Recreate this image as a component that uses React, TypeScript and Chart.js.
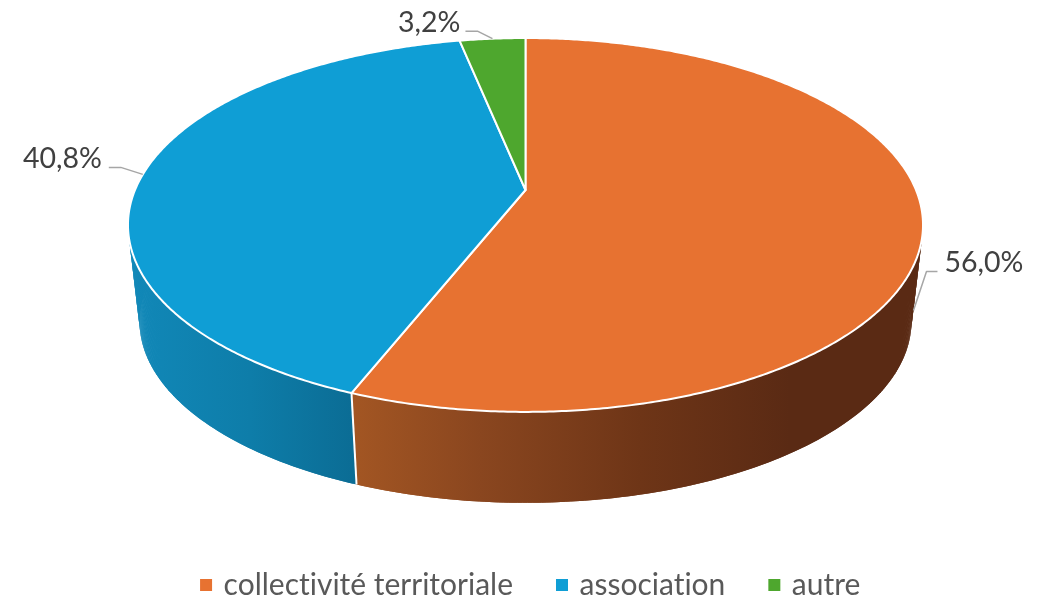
import React, { useEffect, useRef } from "react";
import { Chart, registerables } from "chart.js";

Chart.register(...registerables);

const categories = ["collectivité territoriale", "association", "autre"];
const shares = [56.0, 40.8, 3.2];
const shareLabels = ["56,0%", "40,8%", "3,2%"];
const faceColors = ["#E77231", "#0F9ED5", "#4EA72E"];
const FONT = "Lato, Carlito, 'Open Sans', sans-serif";

// Perspective projection of the pie's unit disc on to the page
const CX = 525.5;
const TOP_Y = 190;
const AX = 390.5;
const BY = 180.4;
const P = 0.187;
const DEPTH_SCALE = 0.971;
const BOTTOM_Y = 287.4;

type Pt = [number, number];
const project = (theta: number, scale: number, y0: number): Pt => {
  const u = Math.sin(theta);
  const v = -Math.cos(theta);
  const w = 1 - P * v;
  return [CX + (scale * AX * u) / w, y0 + (scale * BY * v) / w];
};
const top = (t: number) => project(t, 1, TOP_Y);
const bottom = (t: number) => project(t, DEPTH_SCALE, BOTTOM_Y);
const DEG = Math.PI / 180;

const wallStops: ([number, string][] | null)[] = [
  [[352, "#A35623"], [480, "#8A461F"], [640, "#6E3517"], [790, "#5A2A14"]],
  [[130, "#1188B8"], [250, "#0E7DA9"], [357, "#0B6C94"]],
  null,
];

const noLigatures = {
  id: "noLigatures",
  beforeDraw(chart: any) {
    chart.ctx.textRendering = "optimizeSpeed";
  },
};

const pie3d = {
  id: "pie3d",
  beforeDatasetDraw(chart: any, args: any) {
    const ctx: CanvasRenderingContext2D = chart.ctx;
    const arcs = args.meta.data;
    const range = (a: any): [number, number] => [
      a.startAngle + Math.PI / 2,
      a.endAngle + Math.PI / 2,
    ];
    ctx.save();
    // side wall
    arcs.forEach((a: any, i: number) => {
      const stops = wallStops[i];
      if (!stops) return;
      const [s, e] = range(a);
      const lo = Math.max(s, 60 * DEG);
      const hi = Math.min(e, 300 * DEG);
      if (hi <= lo) return;
      const g = ctx.createLinearGradient(stops[0][0], 0, stops[stops.length - 1][0], 0);
      const x0 = stops[0][0];
      const x1 = stops[stops.length - 1][0];
      stops.forEach(([x, c]) => g.addColorStop((x - x0) / (x1 - x0), c));
      ctx.fillStyle = g;
      const n = 240;
      for (let k = 0; k < n; k++) {
        const t0 = lo + ((hi - lo) * k) / n;
        const t1 = lo + ((hi - lo) * Math.min(k + 2, n)) / n;
        ctx.beginPath();
        ctx.moveTo(...top(t0));
        ctx.lineTo(...top(t1));
        ctx.lineTo(...bottom(t1));
        ctx.lineTo(...bottom(t0));
        ctx.closePath();
        ctx.fill();
      }
    });
    // white seam between the two walls
    const seam = range(arcs[0])[1];
    ctx.strokeStyle = "#FFFFFF";
    ctx.lineWidth = 2;
    ctx.beginPath();
    ctx.moveTo(...top(seam));
    ctx.lineTo(...bottom(seam));
    ctx.stroke();
    // top faces
    arcs.forEach((a: any, i: number) => {
      const [s, e] = range(a);
      ctx.beginPath();
      ctx.moveTo(CX, TOP_Y);
      const n = Math.max(8, Math.ceil((e - s) / (0.5 * DEG)));
      for (let k = 0; k <= n; k++) ctx.lineTo(...top(s + ((e - s) * k) / n));
      ctx.closePath();
      ctx.fillStyle = faceColors[i];
      ctx.fill();
      ctx.strokeStyle = "#FFFFFF";
      ctx.lineWidth = 2;
      ctx.lineJoin = "round";
      ctx.stroke();
    });
    // leader lines and value labels
    const leaders: { elbow: Pt; end: Pt; onWall: boolean; align: CanvasTextAlign; gap: number }[] = [
      { elbow: [13, -39], end: [24, -39], onWall: true, align: "left", gap: 7 },
      { elbow: [-22, -7], end: [-34, -7], onWall: false, align: "right", gap: -7 },
      { elbow: [-15, -7.5], end: [-27, -7.5], onWall: false, align: "right", gap: -5 },
    ];
    arcs.forEach((a: any, i: number) => {
      const [s, e] = range(a);
      const mid = (s + e) / 2;
      const base = leaders[i].onWall ? bottom(mid) : top(mid);
      const anchor: Pt = leaders[i].onWall ? [base[0] + 2, base[1] - 11] : base;
      const el = leaders[i].elbow;
      const en = leaders[i].end;
      ctx.beginPath();
      ctx.moveTo(anchor[0], anchor[1]);
      ctx.lineTo(anchor[0] + el[0], anchor[1] + el[1]);
      ctx.lineTo(anchor[0] + en[0], anchor[1] + en[1]);
      ctx.strokeStyle = "#A6A6A6";
      ctx.lineWidth = 1.5;
      ctx.stroke();
      ctx.fillStyle = "#404040";
      ctx.font = `28.5px ${FONT}`;
      ctx.textBaseline = "alphabetic";
      ctx.textAlign = leaders[i].align;
      ctx.fillText(shareLabels[i], anchor[0] + en[0] + leaders[i].gap, anchor[1] + en[1] + 1);
    });
    ctx.restore();
    return false;
  },
};

export default function App() {
  const ref = useRef<HTMLCanvasElement | null>(null);
  useEffect(() => {
    if (!ref.current) return;
    const chart = new Chart(ref.current, {
      type: "pie",
      data: {
        labels: categories,
        datasets: [{ data: shares, backgroundColor: faceColors, borderWidth: 0 }],
      },
      options: {
        responsive: false,
        animation: false,
        layout: { padding: { left: 16 } },
        plugins: {
          tooltip: { enabled: false },
          legend: {
            position: "bottom",
            maxHeight: 75.5,
            labels: {
              usePointStyle: true,
              pointStyle: "rect",
              boxWidth: 5,
              boxHeight: 12,
              padding: 46.5,
              color: "#595959",
              font: { family: FONT, size: 30 },
            },
          },
        },
      },
      plugins: [noLigatures, pie3d],
    } as any);
    return () => chart.destroy();
  }, []);
  return (
    <div style={{ position: "absolute", left: 0, top: 0, width: 1049, height: 599, background: "#FFFFFF" }}>
      <canvas ref={ref} width={1049} height={599} style={{ display: "block" }} />
    </div>
  );
}
